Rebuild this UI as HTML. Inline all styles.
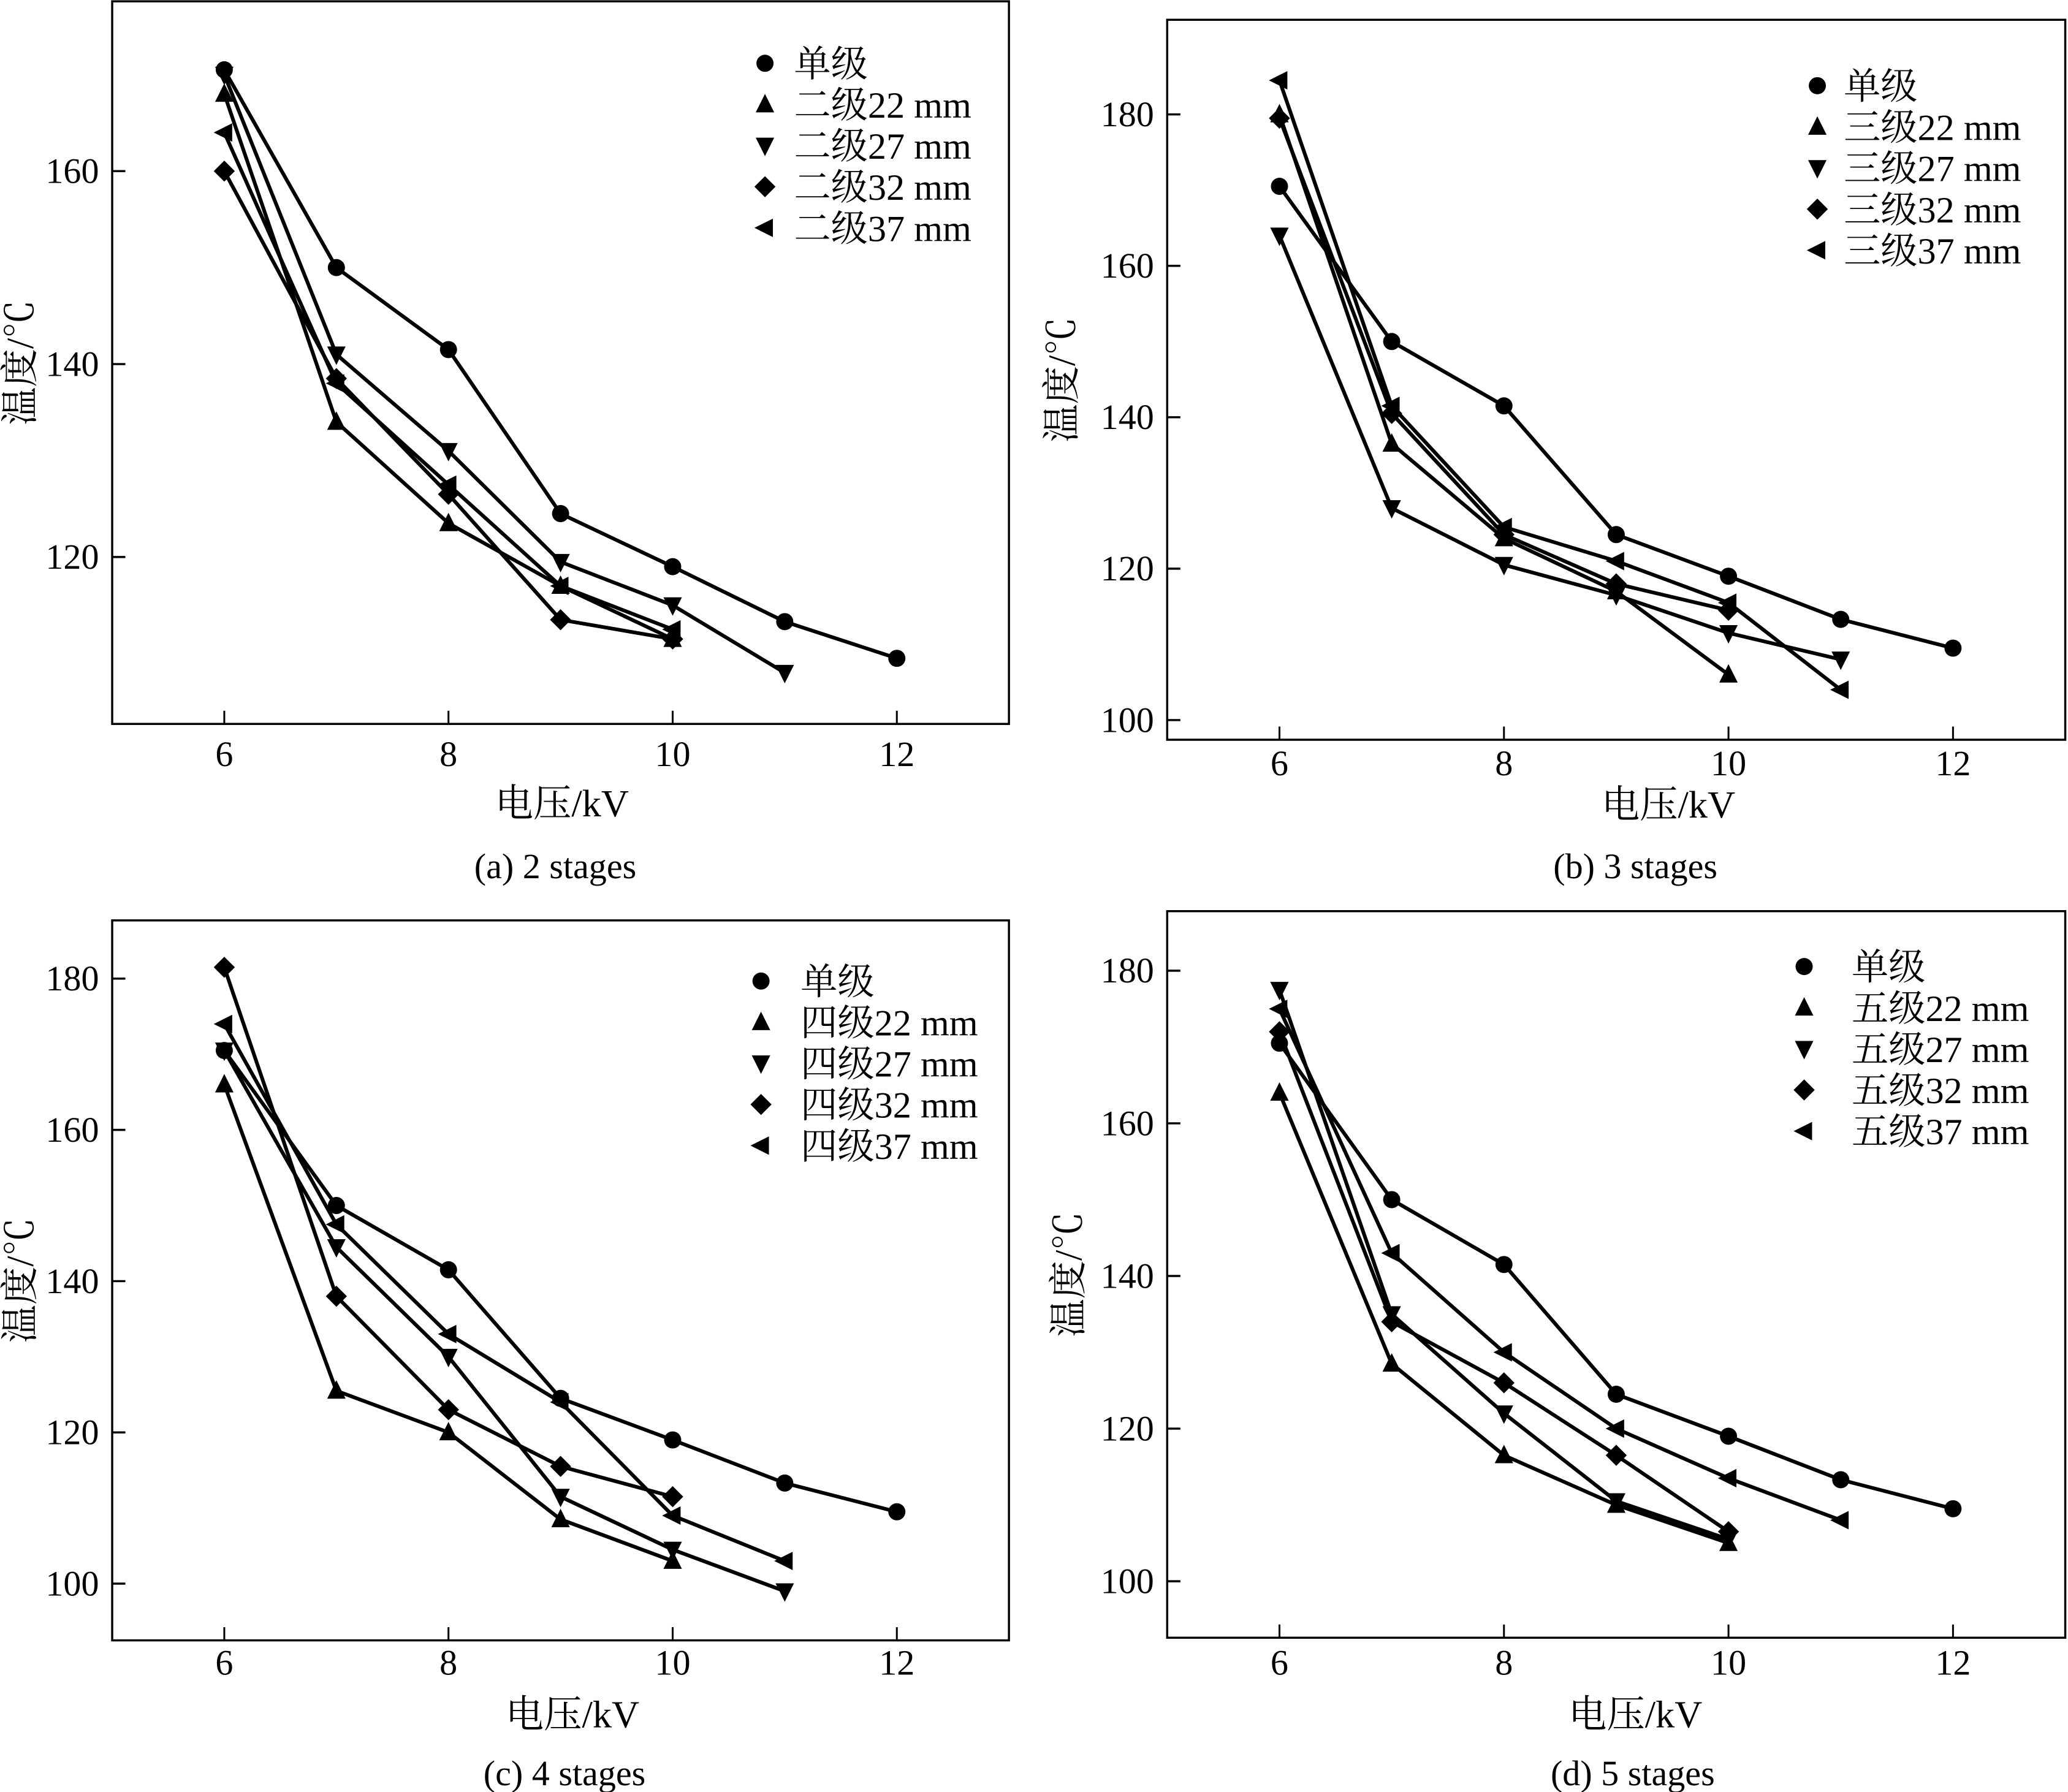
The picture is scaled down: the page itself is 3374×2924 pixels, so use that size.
<!DOCTYPE html>
<html><head><meta charset="utf-8"><style>
html,body{margin:0;padding:0;background:#fff}
svg{display:block}
text{font-family:"Liberation Serif","Noto Serif CJK SC",serif;fill:#000}
</style></head><body>
<svg id="s" width="3374" height="2924" viewBox="0 0 1568 1359" xmlns="http://www.w3.org/2000/svg"></svg>
<script>
const xCategories=[6,7,8,9,10,11,12];
const singleStage=[170.5,150,141.5,124.5,119,113.3,109.5];
const aS22=[168,134,123.5,117,111.5];
const aS27=[170,141,131,119.5,115,108];
const aS32=[160,138.5,126.5,113.5,111.5];
const aS37=[164,138,127.5,117,112.5];
const bS22=[180,136.5,124,117,106];
const bS27=[164,128,120.5,116.5,111.5,108];
const bS32=[179.5,140.5,124.5,118,114.5];
const bS37=[184.5,141.5,125.5,121,115.5,104];
const cS22=[166,125.5,120,108.5,103];
const cS27=[170.5,144.5,130,111.5,104.5,99];
const cS32=[181.5,138,123,115.5,111.5];
const cS37=[174,147.5,133,124,109,103];
const dS22=[164,128.5,116.5,110,105];
const dS27=[177.5,135,122,110.5,105.5];
const dS32=[172,134,126,116.5,106.5];
const dS37=[175,143,130,120,113.5,108];
const xTicks=[6,8,10,12];
const yTicksA=[120,140,160];
const yTicksB=[100,120,140,160,180];

const NS="http://www.w3.org/2000/svg";
const svg=document.getElementById('s');
function mk(tag,attrs,parent){const e=document.createElementNS(NS,tag);for(const k in attrs)e.setAttribute(k,attrs[k]);(parent||svg).appendChild(e);return e;}
function marker(g,type,x,y){
  const r=7;let e;
  if(type==='circle'){e=mk('circle',{cx:x,cy:y,r:6.5},g);}
  else if(type==='up'){e=mk('polygon',{points:`${x},${y-r-1} ${x-r},${y+r-1} ${x+r},${y+r-1}`},g);}
  else if(type==='down'){e=mk('polygon',{points:`${x},${y+r+1} ${x-r},${y-r+1} ${x+r},${y-r+1}`},g);}
  else if(type==='diamond'){e=mk('polygon',{points:`${x},${y-8} ${x+8},${y} ${x},${y+8} ${x-8},${y}`},g);}
  else {e=mk('polygon',{points:`${x-r-1},${y} ${x+r-1},${y-r} ${x+r-1},${y+r}`},g);}
  e.setAttribute('fill','#000');
  return e;
}
const types=['circle','up','down','diamond','left'];
function panel(p){
  const g=mk('g',{});
  
  
  const X=v=>p.x0+(v-5)*(p.x1-p.x0)/8;
  const Y=v=>p.yb-(v-p.ylo)*(p.yb-p.yt)/(p.yhi-p.ylo);
  const frame=mk('rect',{x:p.x0,y:p.yt,width:p.x1-p.x0,height:p.yb-p.yt,fill:'none',stroke:'#000','stroke-width':1.6},g);
  
  
  xTicks.forEach(t=>{
    mk('line',{x1:X(t),x2:X(t),y1:p.yb,y2:p.yb-10,stroke:'#000','stroke-width':1.4},g);
    const tx=mk('text',{x:X(t),y:p.yb+p.tdy,'font-size':27,'text-anchor':'middle'},g);tx.textContent=t;
    
    
  });
  p.yTicks.forEach(t=>{
    mk('line',{x1:p.x0,x2:p.x0+10,y1:Y(t),y2:Y(t),stroke:'#000','stroke-width':1.6},g);
    const tx=mk('text',{x:p.x0-10,y:Y(t)+9,'font-size':27,'text-anchor':'end'},g);tx.textContent=t;
    
    
  });
  p.series.forEach((s,i)=>{
    const pts=s.map((v,j)=>X(xCategories[j])+','+Y(v)).join(' ');
    const pl=mk('polyline',{points:pts,fill:'none',stroke:'#000','stroke-width':2.8,'stroke-linejoin':'round'},g);
    
    
    s.forEach((v,j)=>{const m=marker(g,types[i],X(xCategories[j]),Y(v));
      
      });
  });
  p.labels.forEach((l,i)=>{
    const yy=p.ly+i*31.2;
    const m=marker(g,types[i],p.lmx,yy);
    
    
    const t=mk('text',{x:p.ltx,y:yy+10,'font-size':28},g);t.textContent=l;
    
    
  });
  const cx=(p.x0+p.x1)/2;
  const xt=mk('text',{x:p.xtx,y:p.yb+p.xdy,'font-size':29,'text-anchor':'middle'},g);xt.textContent='电压/kV';
  
  
  const yc=(p.yt+p.yb)/2;
  const yt=mk('text',{x:0,y:0,'font-size':29,'text-anchor':'middle',transform:`translate(${p.ytx},${yc}) rotate(-90)`},g);yt.textContent='温度/℃';
  
  
  const cp=mk('text',{x:p.ctx,y:p.yb+p.cdy,'font-size':27,'text-anchor':'middle'},g);cp.textContent=p.caption;
  
  
}
panel({name:'panel-a',x0:85,x1:765,yt:1,yb:549,ylo:102.7,yhi:177.6,yTicks:yTicksA,
  series:[singleStage,aS22,aS27,aS32,aS37],labels:['单级','二级22 mm','二级27 mm','二级32 mm','二级37 mm'],
  lmx:580,ltx:602,ly:48,caption:'(a) 2 stages',tdy:32,xdy:70,cdy:117,ytx:25,xtx:426,ctx:421});
panel({name:'panel-b',x0:885,x1:1566,yt:15,yb:561,ylo:97.4,yhi:192.5,yTicks:yTicksB,
  series:[singleStage,bS22,bS27,bS32,bS37],labels:['单级','三级22 mm','三级27 mm','三级32 mm','三级37 mm'],
  lmx:1378,ltx:1398,ly:65,caption:'(b) 3 stages',tdy:27,xdy:59,cdy:105,ytx:815,xtx:1265,ctx:1240});
panel({name:'panel-c',x0:85,x1:765,yt:698,yb:1244,ylo:92.5,yhi:187.7,yTicks:yTicksB,
  series:[singleStage,cS22,cS27,cS32,cS37],labels:['单级','四级22 mm','四级27 mm','四级32 mm','四级37 mm'],
  lmx:577,ltx:607,ly:744,caption:'(c) 4 stages',tdy:26,xdy:66,cdy:110,ytx:25,xtx:434,ctx:428});
panel({name:'panel-d',x0:885,x1:1566,yt:691,yb:1242,ylo:92.6,yhi:187.8,yTicks:yTicksB,
  series:[singleStage,dS22,dS27,dS32,dS37],labels:['单级','五级22 mm','五级27 mm','五级32 mm','五级37 mm'],
  lmx:1368,ltx:1404,ly:733,caption:'(d) 5 stages',tdy:28,xdy:68,cdy:112,ytx:820,xtx:1240,ctx:1238});
</script>
</body></html>
